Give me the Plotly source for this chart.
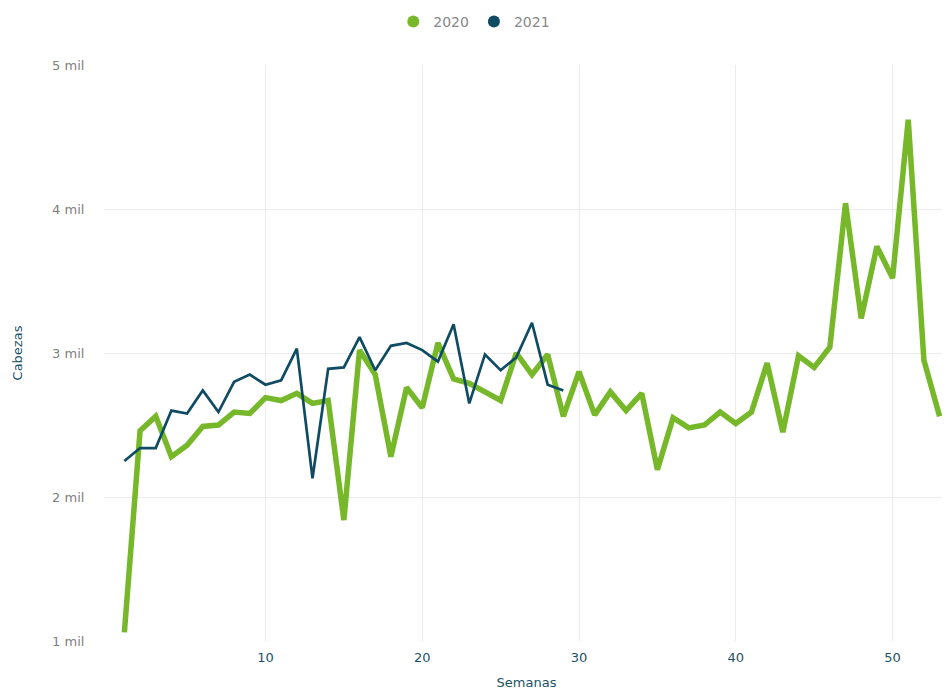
import plotly.graph_objects as go

weeks_2020 = list(range(1, 54))
cabezas_2020 = [1.06, 2.46, 2.56, 2.28, 2.36, 2.49, 2.50, 2.59, 2.58, 2.69,
                2.67, 2.72, 2.65, 2.67, 1.84, 3.02, 2.85, 2.28, 2.76, 2.62,
                3.07, 2.82, 2.79, 2.73, 2.67, 3.00, 2.85, 2.99, 2.56, 2.87,
                2.57, 2.73, 2.60, 2.72, 2.19, 2.55, 2.48, 2.50, 2.59, 2.51,
                2.59, 2.93, 2.45, 2.98, 2.90, 3.04, 4.04, 3.24, 3.74, 3.52,
                4.62, 2.95, 2.56]

weeks_2021 = list(range(1, 30))
cabezas_2021 = [2.25, 2.34, 2.34, 2.60, 2.58, 2.74, 2.59, 2.80, 2.85, 2.78,
                2.81, 3.03, 2.13, 2.89, 2.90, 3.11, 2.88, 3.05, 3.07, 3.02,
                2.94, 3.20, 2.65, 2.99, 2.88, 2.97, 3.21, 2.78, 2.74]

x_ticks = [10, 20, 30, 40, 50]
y_ticks = [1, 2, 3, 4, 5]
y_tick_labels = ["1 mil", "2 mil", "3 mil", "4 mil", "5 mil"]

GREEN = "#76B82A"
BLUE = "#0F4C63"
TEAL_TEXT = "#1d5266"
FONT = "DejaVu Sans, sans-serif"

fig = go.Figure()
fig.add_trace(go.Scatter(x=weeks_2020, y=cabezas_2020, mode="lines", name="2020",
                         line=dict(color=GREEN, width=5.5), showlegend=False))
fig.add_trace(go.Scatter(x=weeks_2021, y=cabezas_2021, mode="lines", name="2021",
                         line=dict(color=BLUE, width=2.7), showlegend=False))
# legend entries with circle symbols
fig.add_trace(go.Scatter(x=[None], y=[None], mode="markers", name="2020",
                         marker=dict(color=GREEN, size=19, symbol="circle")))
fig.add_trace(go.Scatter(x=[None], y=[None], mode="markers", name="2021",
                         marker=dict(color=BLUE, size=19, symbol="circle")))

fig.update_layout(
    width=942, height=689,
    paper_bgcolor="white", plot_bgcolor="white",
    margin=dict(l=96, r=1, t=57, b=56, autoexpand=False),
    font=dict(family=FONT, color="#777777"),
    legend=dict(orientation="h", xref="container", yref="container",
                x=0.495, xanchor="center", y=1 - 14 / 689, yanchor="middle",
                font=dict(size=14, color="#888888"), itemsizing="constant",
                itemwidth=30, tracegroupgap=0),
    showlegend=True,
)
fig.update_xaxes(range=[-0.3, 53.6], tickvals=x_ticks,
                 showgrid=True, gridcolor="#ececec", gridwidth=1,
                 zeroline=False, showline=False,
                 ticks="outside", ticklen=4, tickcolor="rgba(0,0,0,0)",
                 tickfont=dict(size=13, color=TEAL_TEXT, family=FONT),
                 title=dict(text="Semanas", font=dict(size=13, color=TEAL_TEXT, family=FONT),
                            standoff=14))
fig.update_yaxes(range=[1, 5], tickvals=y_ticks, ticktext=y_tick_labels,
                 showgrid=True, gridcolor="#ececec", gridwidth=1,
                 zeroline=False, showline=False,
                 ticks="outside", ticklen=16, tickcolor="rgba(0,0,0,0)",
                 tickfont=dict(size=13, color="#808080", family=FONT),
                 title=dict(text="Cabezas", font=dict(size=13, color=TEAL_TEXT, family=FONT),
                            standoff=26))

fig.write_html("out.html")
